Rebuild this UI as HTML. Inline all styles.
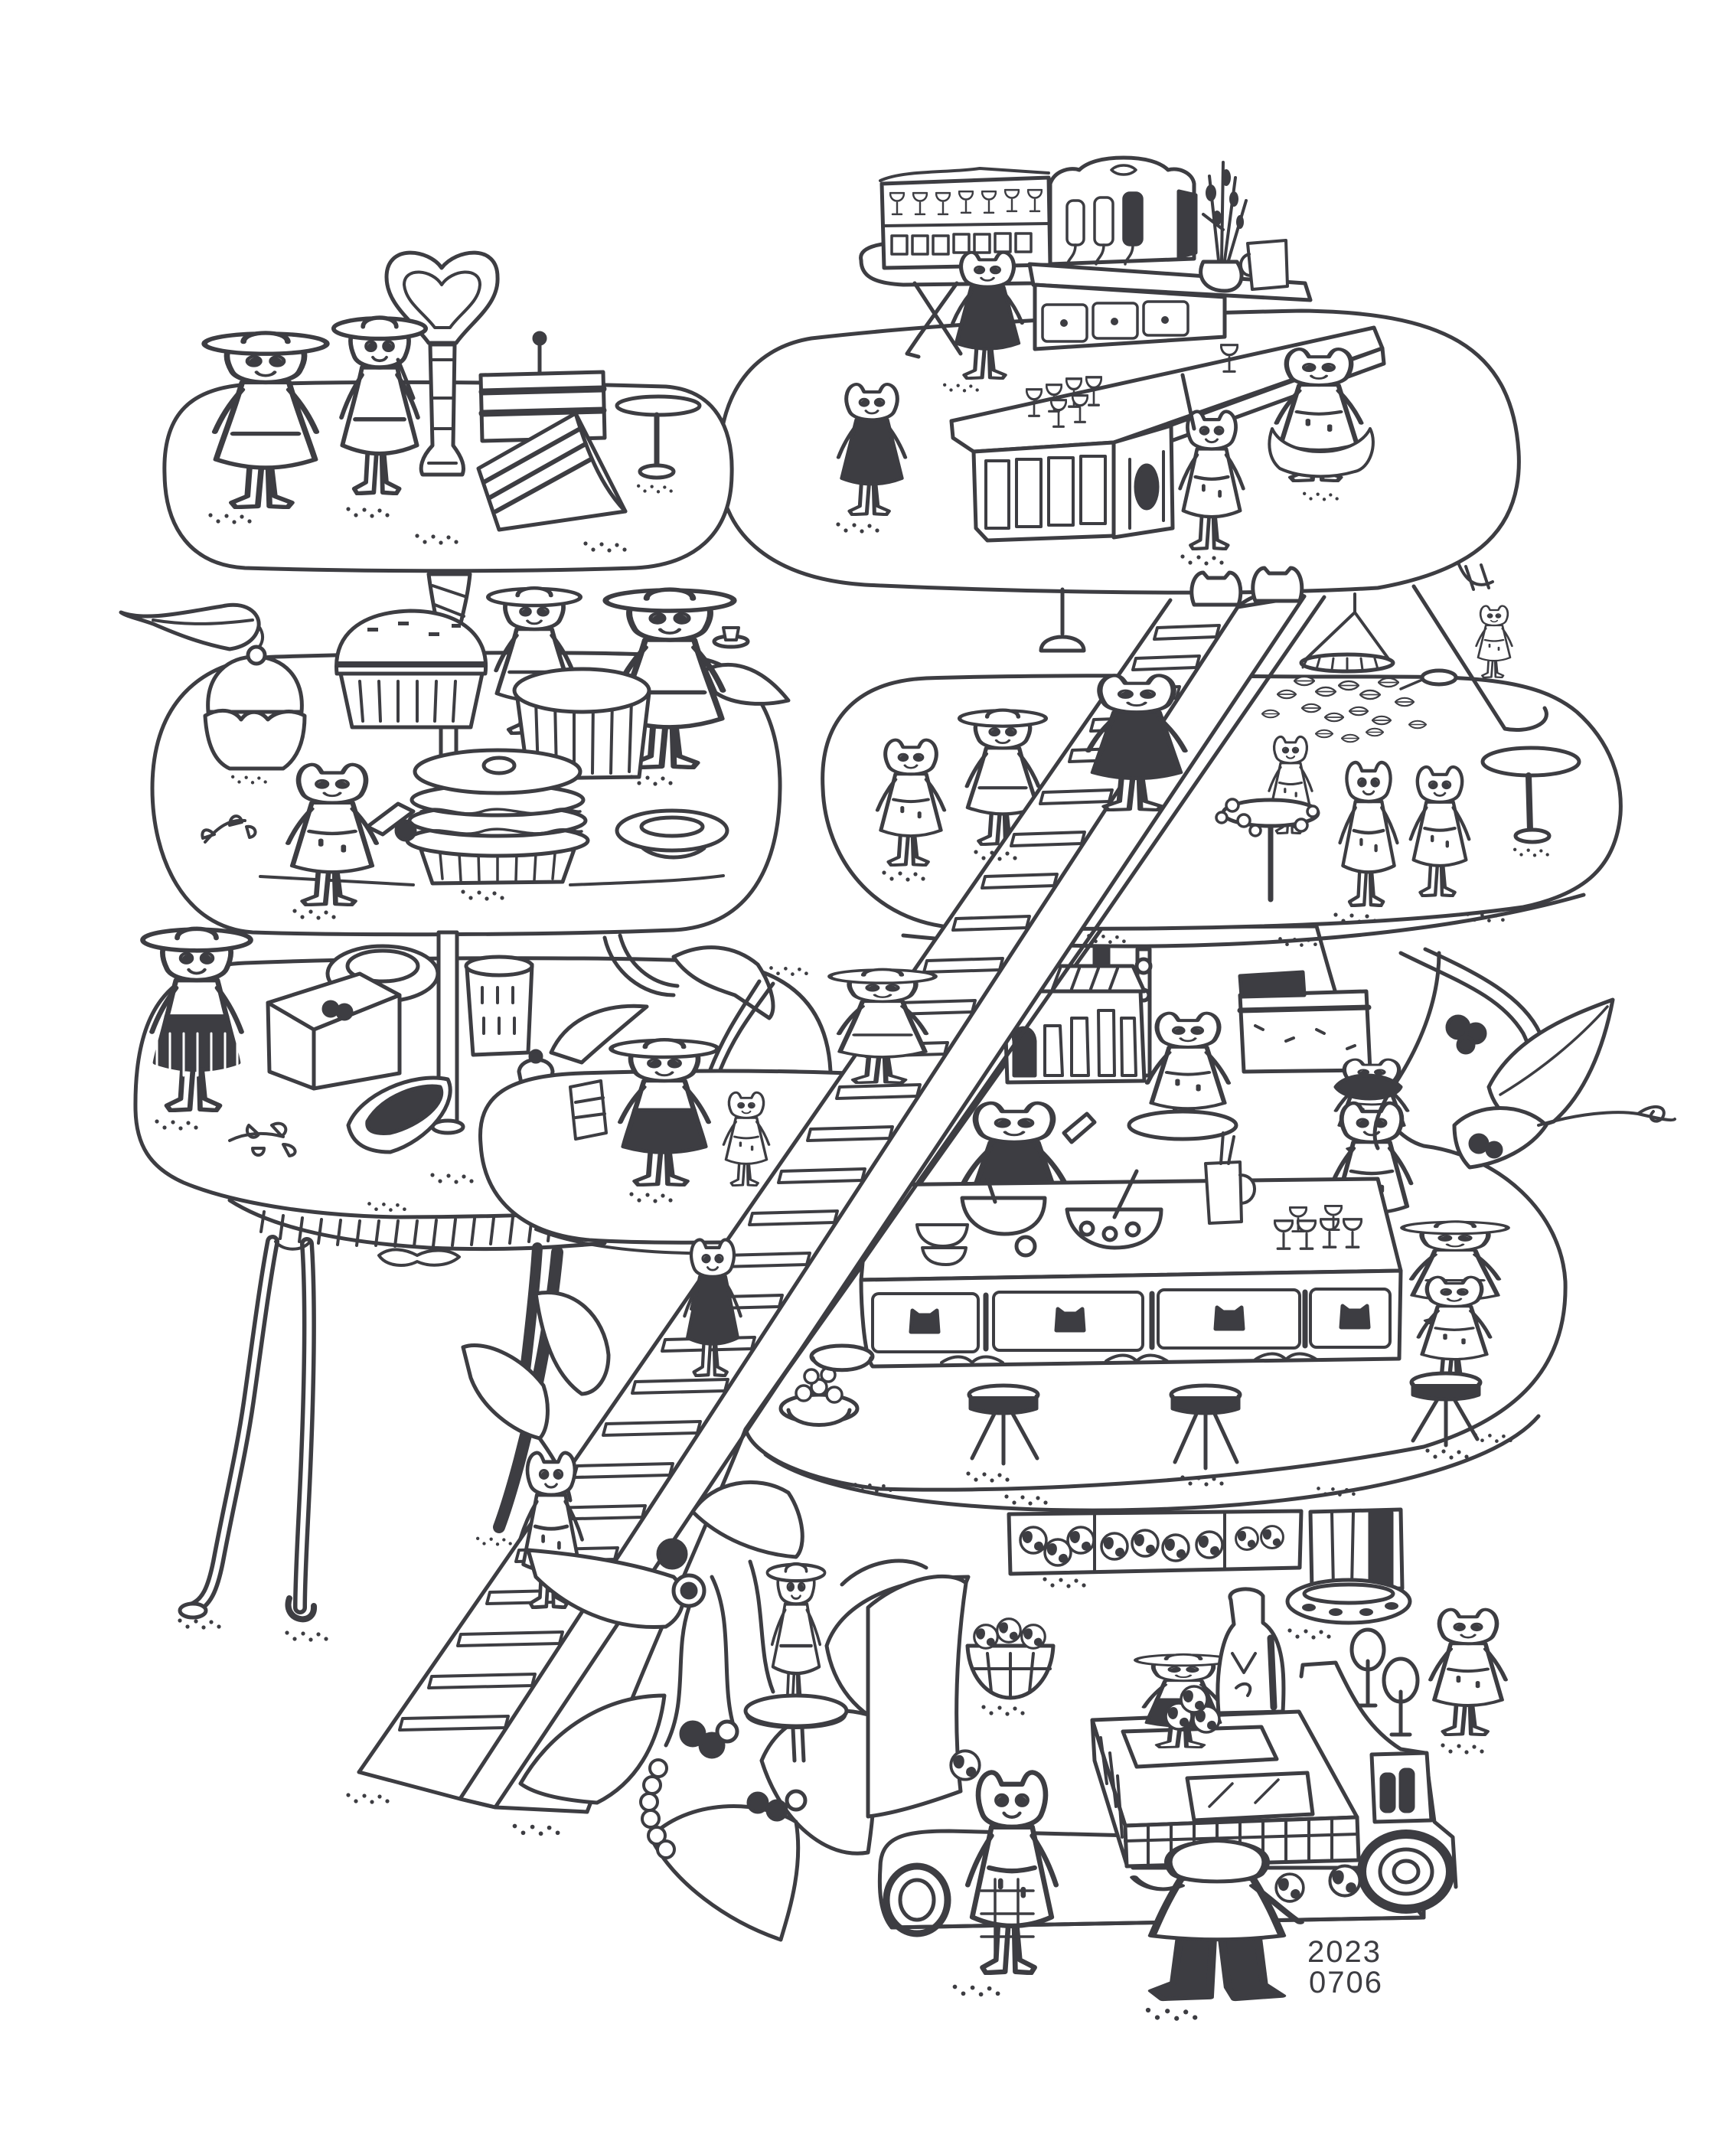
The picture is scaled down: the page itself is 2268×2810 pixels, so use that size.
<!DOCTYPE html>
<html><head><meta charset="utf-8"><title>tiers</title>
<style>html,body{margin:0;padding:0;background:#fff}svg{display:block}</style>
</head><body>
<svg xmlns="http://www.w3.org/2000/svg" width="2268" height="2810" viewBox="0 0 2268 2810">
<defs>
<symbol id="cat" viewBox="0 0 100 200" preserveAspectRatio="none">
<g stroke="#3d3d42" stroke-width="4.5" fill="#fff" stroke-linejoin="round" stroke-linecap="round">
<path d="M38,148 L36,186 L24,193 L27,198 L44,197 L47,150 Z M54,150 L57,186 L70,193 L67,198 L53,197 L52,150 Z"/>
<path d="M32,62 C26,92 20,120 15,146 C38,157 62,157 85,146 C80,120 74,92 68,62 Z"/>
<path d="M32,70 C22,86 16,100 11,116 M68,70 C78,86 84,100 89,116" fill="none"/>
<path d="M24,50 C16,30 22,12 32,11 C37,11 39,17 41,22 L59,22 C61,17 63,11 68,11 C78,12 84,30 76,50 C70,66 30,66 24,50 Z"/>
<circle cx="41" cy="37" r="5" stroke-width="3"/><circle cx="59" cy="37" r="5" stroke-width="3"/>
<path d="M43,49 C46,54 54,54 57,49" fill="none" stroke-width="3"/>
<path d="M30,100 C45,104 55,104 70,100 M40,112 L40,118 M60,120 L60,126" fill="none"/>
</g>
<circle cx="42" cy="38" r="2.2" fill="#3d3d42"/><circle cx="58" cy="38" r="2.2" fill="#3d3d42"/>
</symbol>
<symbol id="catd" viewBox="0 0 100 200" preserveAspectRatio="none">
<g stroke="#3d3d42" stroke-width="4.5" fill="#fff" stroke-linejoin="round" stroke-linecap="round">
<path d="M38,148 L36,186 L24,193 L27,198 L44,197 L47,150 Z M54,150 L57,186 L70,193 L67,198 L53,197 L52,150 Z"/>
<path d="M32,62 C26,92 20,120 15,146 C38,157 62,157 85,146 C80,120 74,92 68,62 Z" fill="#3d3d42"/>
<path d="M32,70 C22,86 16,100 11,116 M68,70 C78,86 84,100 89,116" fill="none"/>
<path d="M24,50 C16,30 22,12 32,11 C37,11 39,17 41,22 L59,22 C61,17 63,11 68,11 C78,12 84,30 76,50 C70,66 30,66 24,50 Z"/>
<circle cx="41" cy="37" r="5" stroke-width="3"/><circle cx="59" cy="37" r="5" stroke-width="3"/>
<path d="M43,49 C46,54 54,54 57,49" fill="none" stroke-width="3"/>
</g>
<circle cx="42" cy="38" r="2.2" fill="#3d3d42"/><circle cx="58" cy="38" r="2.2" fill="#3d3d42"/>
</symbol>
<symbol id="cath" viewBox="0 0 100 200" preserveAspectRatio="none">
<g stroke="#3d3d42" stroke-width="4.5" fill="#fff" stroke-linejoin="round" stroke-linecap="round">
<path d="M38,148 L36,186 L24,193 L27,198 L44,197 L47,150 Z M54,150 L57,186 L70,193 L67,198 L53,197 L52,150 Z"/>
<path d="M32,62 C26,92 18,120 12,146 C38,158 62,158 88,146 C82,120 74,92 68,62 Z"/>
<path d="M32,70 C22,86 16,100 11,116 M68,70 C78,86 84,100 89,116 M25,118 L75,118" fill="none"/>
<path d="M24,50 C16,30 22,18 32,17 L68,17 C78,18 84,30 76,50 C70,66 30,66 24,50 Z"/>
<ellipse cx="50" cy="20" rx="47" ry="11"/>
<path d="M33,18 C33,5 67,5 67,18"/>
<circle cx="41" cy="39" r="5" stroke-width="3"/><circle cx="59" cy="39" r="5" stroke-width="3"/>
<path d="M43,51 C46,56 54,56 57,51" fill="none" stroke-width="3"/>
</g>
<circle cx="42" cy="40" r="2.2" fill="#3d3d42"/><circle cx="58" cy="40" r="2.2" fill="#3d3d42"/>
</symbol>
<symbol id="cathd" viewBox="0 0 100 200" preserveAspectRatio="none">
<g stroke="#3d3d42" stroke-width="4.5" fill="#fff" stroke-linejoin="round" stroke-linecap="round">
<path d="M38,148 L36,186 L24,193 L27,198 L44,197 L47,150 Z M54,150 L57,186 L70,193 L67,198 L53,197 L52,150 Z"/>
<path d="M32,62 C28,80 26,92 24,100 L76,100 C74,92 72,80 68,62 Z"/>
<path d="M24,100 C20,120 16,135 14,148 C38,158 62,158 86,148 C84,135 80,120 76,100 Z" fill="#3d3d42"/>
<path d="M32,70 C22,86 16,100 11,116 M68,70 C78,86 84,100 89,116" fill="none"/>
<path d="M24,50 C16,30 22,18 32,17 L68,17 C78,18 84,30 76,50 C70,66 30,66 24,50 Z"/>
<ellipse cx="50" cy="20" rx="47" ry="11"/>
<path d="M33,18 C33,5 67,5 67,18"/>
<circle cx="41" cy="39" r="5" stroke-width="3"/><circle cx="59" cy="39" r="5" stroke-width="3"/>
<path d="M43,51 C46,56 54,56 57,51" fill="none" stroke-width="3"/>
</g>
<circle cx="42" cy="40" r="2.2" fill="#3d3d42"/><circle cx="58" cy="40" r="2.2" fill="#3d3d42"/>
</symbol>
<symbol id="catp" viewBox="0 0 100 200" preserveAspectRatio="none">
<g stroke="#3d3d42" stroke-width="4.5" fill="#fff" stroke-linejoin="round" stroke-linecap="round">
<path d="M30,110 L26,176 L14,186 L20,196 L46,194 L48,112 Z M52,112 L56,182 L60,196 L86,192 L76,178 L72,110 Z" fill="#3d3d42"/>
<path d="M30,52 C22,80 18,100 14,120 C38,126 62,126 86,120 C82,100 78,80 70,52 Z"/>
<path d="M30,60 C18,70 8,60 4,50 M70,60 C82,80 90,96 96,104" fill="none"/>
<path d="M26,46 C18,26 26,8 50,6 C74,8 82,26 74,46 C68,58 32,58 26,46 Z"/>
</g>
</symbol>
<symbol id="gob" viewBox="0 0 20 30" preserveAspectRatio="none">
<path d="M1,2 C1,15 19,15 19,2 Z M10,14 L10,26 M4,28 L16,28" fill="#fff" stroke="#3d3d42" stroke-width="2.4" stroke-linecap="round"/>
</symbol>
<symbol id="dots" viewBox="0 0 60 20">
<g fill="#3d3d42"><circle cx="5" cy="5" r="2.6"/><circle cx="15" cy="13" r="2.6"/><circle cx="26" cy="6" r="2.6"/><circle cx="36" cy="14" r="2.6"/><circle cx="46" cy="7" r="2.6"/><circle cx="56" cy="13" r="2.6"/></g>
</symbol>
<symbol id="ball" viewBox="0 0 40 40">
<circle cx="20" cy="20" r="17" fill="#fff" stroke="#3d3d42" stroke-width="3.5"/>
<path d="M8,14 C12,8 18,10 16,18 C14,24 8,22 8,14 Z M24,26 C28,22 32,26 30,30 C26,33 22,30 24,26 Z" fill="#3d3d42"/>
</symbol>
<symbol id="lf" viewBox="0 0 30 16">
<path d="M1,8 C8,0 22,0 29,8 C22,16 8,16 1,8 Z" fill="#fff" stroke="#3d3d42" stroke-width="2.5"/>
<path d="M4,8 L26,8" stroke="#3d3d42" stroke-width="2"/>
</symbol>
</defs>

<g fill="#fff" stroke="#3d3d42" stroke-width="5" stroke-linejoin="round" stroke-linecap="round">

<!-- ===== table legs (back) ===== -->
<g fill="none">
<path d="M356,1622 C345,1680 335,1760 325,1830 C315,1900 300,1960 285,2040 C278,2075 270,2095 250,2102" stroke-width="18"/>
<path d="M356,1622 C345,1680 335,1760 325,1830 C315,1900 300,1960 285,2040 C278,2075 270,2095 250,2102" stroke="#fff" stroke-width="7"/>
<path d="M401,1625 C406,1700 404,1800 400,1900 C397,1980 392,2050 392,2100" stroke-width="18"/>
<path d="M401,1625 C406,1700 404,1800 400,1900 C397,1980 392,2050 392,2100" stroke="#fff" stroke-width="7"/>
<path d="M728,1636 C722,1700 712,1760 695,1840 C682,1900 665,1960 652,1995" stroke-width="16"/>
<path d="M702,1630 C699,1680 692,1740 686,1790" stroke-width="14"/>
</g>
<ellipse cx="252" cy="2104" rx="17" ry="9"/>
<path d="M378,2088 C368,2118 412,2126 410,2098" fill="none" stroke-width="8"/>

<!-- ===== TR platform ===== -->
<path d="M940,618 C935,520 980,455 1060,442 C1250,420 1500,410 1700,406 C1880,408 1975,450 1984,590 C1990,690 1930,745 1800,768 C1600,780 1300,772 1130,764 C1010,756 945,700 940,618 Z"/>
<path d="M1905,735 C1915,760 1930,770 1950,760 M1915,740 L1925,770 M1935,738 L1945,768" fill="none" stroke-width="4"/>
<use href="#cat" x="1922" y="786" width="60" height="100"/>
<!-- top bar -->
<path d="M1125,340 C1120,320 1160,315 1200,318 L1350,325 L1350,370 L1180,372 C1140,370 1125,360 1125,340 Z"/>
<path d="M1195,370 L1255,462 M1250,370 L1200,440 L1185,462 L1200,466" fill="none"/>
<path d="M1152,240 L1370,232 L1372,346 L1155,350 Z"/>
<path d="M1150,236 C1180,222 1240,226 1280,220 L1370,226 M1155,295 L1372,292" fill="none" stroke-width="4"/>
<use href="#gob" x="1162" y="250" width="20" height="32"/><use href="#gob" x="1192" y="250" width="20" height="32"/><use href="#gob" x="1222" y="250" width="20" height="32"/><use href="#gob" x="1252" y="248" width="20" height="32"/><use href="#gob" x="1282" y="248" width="20" height="32"/><use href="#gob" x="1312" y="246" width="20" height="32"/><use href="#gob" x="1342" y="246" width="20" height="32"/>
<g stroke-width="3.5"><rect x="1165" y="308" width="20" height="24"/><rect x="1192" y="308" width="20" height="24"/><rect x="1219" y="308" width="20" height="24"/><rect x="1246" y="306" width="20" height="24"/><rect x="1273" y="306" width="20" height="24"/><rect x="1300" y="305" width="20" height="24"/><rect x="1327" y="305" width="20" height="24"/></g>
<path d="M1372,345 L1372,240 C1378,222 1400,218 1410,222 C1420,212 1440,206 1468,206 C1496,206 1516,212 1526,222 C1540,218 1558,226 1560,240 L1560,338 Z"/>
<path d="M1540,250 L1562,255 L1562,330 L1540,336 Z" fill="#3d3d42"/>
<path d="M1452,222 C1460,214 1476,214 1484,222 C1476,230 1460,230 1452,222 Z" stroke-width="3.5"/>
<g stroke-width="3.5"><rect x="1394" y="262" width="22" height="58" rx="8"/><rect x="1430" y="258" width="24" height="62" rx="8"/><rect x="1468" y="252" width="24" height="68" rx="8" fill="#3d3d42"/>
<path d="M1405,320 C1405,335 1395,338 1395,345 M1442,320 C1442,335 1432,338 1432,345 M1480,320 C1480,335 1470,338 1470,345" fill="none"/></g>
<path d="M1345,345 L1705,370 L1712,392 L1350,372 Z"/>
<path d="M1352,372 L1600,388 L1600,440 L1352,456 Z"/>
<g stroke-width="3.5" fill="none"><rect x="1362" y="398" width="58" height="48" rx="6"/><rect x="1428" y="396" width="58" height="46" rx="6"/><rect x="1494" y="394" width="58" height="44" rx="6"/></g>
<g fill="#3d3d42" stroke="none"><circle cx="1390" cy="422" r="5"/><circle cx="1456" cy="420" r="5"/><circle cx="1522" cy="418" r="5"/></g>
<path d="M1592,340 L1580,230 M1596,340 L1598,212 M1600,340 L1614,232 M1605,340 L1628,262 M1598,300 L1572,280" fill="none" stroke-width="4"/>
<g fill="#3d3d42" stroke="none"><ellipse cx="1582" cy="252" rx="7" ry="11"/><ellipse cx="1602" cy="232" rx="6" ry="11"/><ellipse cx="1612" cy="260" rx="6" ry="10"/><ellipse cx="1590" cy="285" rx="6" ry="10"/><ellipse cx="1620" cy="290" rx="5" ry="9"/></g>
<path d="M1572,342 C1562,362 1575,380 1600,380 C1622,380 1628,360 1616,342 Z"/>
<path d="M1630,318 L1680,314 L1682,374 L1636,378 Z M1632,332 C1616,336 1618,360 1634,360" stroke-width="4"/>
<use href="#catd" x="1232" y="320" width="116" height="176"/>
<!-- TR counter -->
<path d="M1243,550 L1795,428 L1806,455 L1455,578 L1272,590 L1245,572 Z"/>
<path d="M1528,556 L1806,455 L1808,475 L1530,576 Z"/>
<path d="M1272,590 L1455,578 L1455,700 L1290,706 L1275,690 Z"/>
<g fill="none" stroke-width="4"><rect x="1288" y="602" width="30" height="88"/><rect x="1328" y="600" width="32" height="88"/><rect x="1370" y="598" width="32" height="88"/><rect x="1412" y="596" width="32" height="88"/></g>
<path d="M1455,578 L1530,556 L1532,690 L1455,702 Z"/>
<path d="M1476,600 L1476,690 M1520,590 L1520,680" fill="none" stroke-width="4"/>
<ellipse cx="1498" cy="636" rx="14" ry="28" fill="#3d3d42"/>
<use href="#gob" x="1340" y="506" width="22" height="40"/><use href="#gob" x="1366" y="500" width="22" height="40"/><use href="#gob" x="1392" y="492" width="22" height="42"/><use href="#gob" x="1418" y="490" width="22" height="42"/><use href="#gob" x="1372" y="520" width="22" height="40"/><use href="#gob" x="1400" y="514" width="22" height="40"/>
<use href="#catd" x="1083" y="492" width="112" height="182"/>
<use href="#cat" x="1530" y="527" width="106" height="192"/>
<path d="M1560,560 L1545,490" fill="none"/>
<use href="#cat" x="1652" y="446" width="142" height="184"/>
<path d="M1662,560 C1680,600 1770,600 1790,560 C1800,580 1790,612 1770,616 C1740,625 1700,625 1672,612 C1658,600 1655,580 1662,560 Z" stroke-width="4"/>
<use href="#gob" x="1594" y="448" width="24" height="40"/>
<path d="M1388,770 L1388,828" fill="none"/>
<path d="M1360,850 C1360,826 1416,826 1416,850 Z"/>

<!-- ===== TL platform ===== -->
<path d="M215,620 C212,540 250,505 330,502 C500,497 700,500 870,505 C935,510 958,560 956,620 C955,700 905,738 830,742 C650,748 450,746 320,742 C250,738 216,690 215,620 Z"/>
<path d="M577,350 C560,325 505,318 505,362 C505,398 540,420 560,448 L596,448 C616,420 652,398 650,362 C650,318 596,325 577,350 Z"/>
<path d="M577,372 C565,352 528,348 528,372 C530,395 555,410 568,428 L588,428 C600,410 626,395 627,372 C627,348 590,352 577,372 Z" fill="none" stroke-width="4"/>
<path d="M562,450 L565,582 C550,598 548,612 552,620 L604,620 C608,610 604,598 592,582 L594,450 Z"/>
<path d="M562,470 L594,470 M564,520 L592,520 M566,560 L590,560 M560,605 L596,605" fill="none" stroke-width="4"/>
<use href="#cath" x="262" y="425" width="170" height="240"/>
<use href="#cath" x="432" y="405" width="128" height="242"/>
<path d="M520,470 L540,520" fill="none"/>
<path d="M628,490 L788,486 L790,572 L630,576 Z"/>
<path d="M630,512 L788,508" fill="none" stroke-width="9"/>
<path d="M630,540 L788,536" fill="none" stroke-width="9"/>
<path d="M705,488 L705,445" fill="none"/><circle cx="705" cy="442" r="7" fill="#3d3d42"/>
<path d="M625,612 L752,540 L817,668 L652,692 Z"/>
<path d="M632,630 L758,560 M640,650 L765,580 M648,668 L772,600" fill="none" stroke-width="6"/>
<path d="M752,540 C770,600 790,640 817,668" fill="none"/>
<ellipse cx="860" cy="530" rx="54" ry="12"/>
<path d="M858,542 L858,610" fill="none" stroke-width="7"/>
<ellipse cx="858" cy="616" rx="22" ry="8"/>

<!-- ===== L2 ===== -->
<path d="M199,1030 C199,925 255,862 360,858 C550,852 800,850 900,858 C990,866 1020,950 1019,1030 C1018,1130 980,1210 880,1215 C700,1222 450,1222 330,1218 C240,1212 199,1120 199,1030 Z"/>
<path d="M340,1145 C430,1150 500,1154 540,1156 M745,1156 C850,1152 900,1150 945,1144" fill="none" stroke-width="4"/>
<path d="M158,800 C190,812 240,800 290,792 C320,785 340,800 338,818 C335,835 320,845 300,848 C260,840 230,828 200,815 C180,808 165,805 158,800 Z"/>
<path d="M338,818 C348,832 342,846 330,852 M200,810 C250,818 290,815 330,810" fill="none" stroke-width="4"/>
<path d="M922,875 C950,862 990,865 1030,915 C1000,922 960,922 935,905 Z"/>
<path d="M560,750 C565,790 572,815 576,845 L576,988 L596,988 L596,845 C600,815 610,790 614,750 Z"/>
<path d="M565,765 L610,780 M568,790 L606,805 M572,815 L602,828" fill="none" stroke-width="4"/>
<path d="M272,930 C268,880 300,858 333,858 C370,858 398,885 394,930 Z"/>
<circle cx="335" cy="856" r="11"/>
<path d="M268,935 C270,970 280,995 300,1004 L370,1004 C390,990 398,965 398,935 C380,925 360,930 350,940 C340,928 325,926 315,940 C305,926 285,925 268,935 Z"/>
<path d="M440,880 C435,830 470,800 536,798 C600,798 640,830 634,880 Z"/>
<path d="M442,868 L632,868" fill="none" stroke-width="8"/>
<path d="M445,880 L630,880 L615,950 L460,950 Z"/>
<path d="M470,890 L474,942 M495,890 L497,942 M520,890 L520,942 M545,890 L545,942 M570,890 L568,942 M595,890 L592,942" fill="none" stroke-width="4"/>
<g fill="#3d3d42" stroke="none"><rect x="480" y="820" width="14" height="5"/><rect x="520" y="812" width="14" height="5"/><rect x="560" y="826" width="14" height="5"/><rect x="590" y="815" width="12" height="5"/></g>
<use href="#cath" x="634" y="760" width="128" height="200"/>
<use href="#cath" x="786" y="760" width="178" height="245"/>
<ellipse cx="955" cy="838" rx="22" ry="7"/><path d="M945,820 L965,820 L962,836 L948,836 Z" stroke-width="4"/>
<path d="M675,905 L848,905 L835,1015 L690,1017 Z"/>
<path d="M700,915 L703,1008 M725,915 L727,1010 M750,915 L750,1010 M775,915 L774,1010 M800,915 L798,1010 M825,915 L822,1008" fill="none" stroke-width="4"/>
<ellipse cx="760" cy="902" rx="88" ry="28"/>
<path d="M550,1110 L750,1110 L735,1152 L565,1154 Z"/>
<path d="M575,1115 L578,1148 M600,1115 L602,1150 M625,1115 L626,1150 M650,1115 L650,1150 M675,1115 L674,1150 M700,1115 L698,1150 M725,1115 L722,1148" fill="none" stroke-width="3.5"/>
<ellipse cx="650" cy="1098" rx="118" ry="20"/>
<ellipse cx="650" cy="1072" rx="115" ry="20"/>
<ellipse cx="650" cy="1045" rx="112" ry="20"/>
<ellipse cx="650" cy="1008" rx="108" ry="28"/>
<ellipse cx="652" cy="1000" rx="20" ry="10"/>
<path d="M550,1060 C580,1050 600,1070 630,1060 C660,1050 690,1070 720,1060 C740,1052 750,1062 758,1060 M548,1088 C580,1078 600,1096 630,1086 C660,1076 690,1096 720,1086 C740,1080 752,1088 760,1086" fill="none" stroke-width="3.5"/>
<circle cx="530" cy="1085" r="12" fill="#3d3d42"/>
<use href="#cat" x="360" y="988" width="148" height="196"/>
<path d="M480,1080 L520,1050 L540,1060 L500,1090 Z"/>
<ellipse cx="878" cy="1085" rx="72" ry="26"/>
<ellipse cx="878" cy="1080" rx="40" ry="12"/>
<path d="M840,1108 C860,1124 900,1124 920,1108" fill="none"/>
<path d="M268,1100 C285,1080 300,1070 320,1072 M280,1090 C270,1080 262,1084 265,1095 Z M300,1078 C300,1064 314,1062 316,1074 Z M322,1080 C335,1078 338,1092 326,1094 Z" stroke-width="4"/>

<!-- ===== R3 (under) ===== -->
<path d="M974,1867 L1440,1212 L1720,1210 C1770,1390 1800,1480 1860,1497 C1960,1510 2040,1585 2045,1674 C2048,1780 1990,1850 1860,1890 C1600,1940 1300,1950 1150,1945 C1060,1935 985,1905 974,1867 Z"/>
<path d="M1000,1900 C1080,1960 1300,1978 1500,1972 C1750,1965 1950,1920 2010,1850" fill="none"/>
<rect x="1430" y="1236" width="18" height="72" fill="#3d3d42"/>
<path d="M1486,1240 L1502,1240 L1502,1405 L1486,1405 Z"/>
<circle cx="1494" cy="1262" r="9"/><circle cx="1494" cy="1300" r="7"/>
<path d="M1318,1262 L1480,1262 L1495,1295 L1312,1295 Z"/>
<path d="M1335,1265 L1325,1292 M1360,1265 L1350,1292 M1385,1265 L1375,1292 M1410,1265 L1400,1292 M1435,1265 L1425,1292 M1460,1265 L1450,1292" fill="none" stroke-width="4"/>
<path d="M1312,1295 L1490,1295 L1495,1412 L1316,1414 Z"/>
<path d="M1325,1360 C1320,1340 1350,1335 1352,1360 L1352,1405 L1325,1405 Z" fill="#3d3d42"/>
<path d="M1365,1340 L1385,1340 L1388,1405 L1365,1405 Z M1400,1330 L1420,1330 L1422,1405 L1400,1405 Z M1435,1320 L1455,1320 L1456,1405 L1436,1405 Z M1465,1330 L1482,1330 L1484,1405 L1466,1405 Z" stroke-width="4"/>
<path d="M1620,1300 L1785,1295 L1790,1398 L1625,1400 Z"/>
<path d="M1620,1320 L1788,1316" fill="none" stroke-width="7"/>
<path d="M1620,1275 L1702,1270 L1704,1300 L1622,1302 Z" fill="#3d3d42"/>
<path d="M1640,1340 L1650,1345 M1680,1360 L1690,1356 M1720,1345 L1730,1350 M1760,1370 L1770,1366" fill="none" stroke-width="4"/>
<use href="#cat" x="1484" y="1314" width="136" height="174"/>
<ellipse cx="1545" cy="1470" rx="70" ry="18"/>
<use href="#cat" x="1732" y="1377" width="120" height="128"/>
<path d="M1745,1420 C1760,1400 1810,1400 1830,1420 C1820,1440 1760,1440 1745,1420 Z" fill="#3d3d42"/>
<use href="#catd" x="1240" y="1430" width="170" height="200"/>
<path d="M1390,1480 L1420,1455 L1430,1466 L1400,1492 Z"/>
<use href="#cat" x="1726" y="1430" width="132" height="200"/>
<path d="M1136,1548 L1800,1540 L1830,1660 L1125,1672 Z"/>
<path d="M1257,1565 C1260,1600 1290,1612 1312,1612 C1340,1612 1365,1600 1365,1565 Z"/>
<path d="M1300,1570 L1290,1540" fill="none"/>
<path d="M1394,1580 C1398,1615 1430,1630 1456,1630 C1490,1630 1517,1615 1517,1580 Z"/>
<path d="M1456,1590 L1485,1530" fill="none"/>
<circle cx="1420" cy="1605" r="8"/><circle cx="1450" cy="1612" r="8"/><circle cx="1480" cy="1606" r="8"/>
<path d="M1198,1600 C1200,1620 1215,1628 1232,1628 C1250,1628 1262,1620 1264,1600 Z M1205,1630 C1208,1648 1222,1652 1236,1652 C1250,1652 1260,1645 1262,1630 Z" stroke-width="4"/>
<circle cx="1340" cy="1628" r="12"/>
<path d="M1575,1520 L1620,1518 L1622,1596 L1580,1598 Z M1620,1535 C1645,1535 1645,1570 1622,1572" stroke-width="4"/>
<path d="M1595,1520 L1598,1480 M1605,1520 L1612,1485" fill="none" stroke-width="4"/>
<use href="#gob" x="1664" y="1592" width="26" height="42"/><use href="#gob" x="1694" y="1592" width="26" height="42"/><use href="#gob" x="1724" y="1590" width="26" height="42"/><use href="#gob" x="1754" y="1590" width="26" height="42"/><use href="#gob" x="1684" y="1575" width="24" height="36"/><use href="#gob" x="1730" y="1573" width="24" height="36"/>
<path d="M1125,1672 L1830,1660 L1828,1775 L1140,1785 C1128,1770 1125,1700 1125,1672 Z"/>
<g fill="none" stroke-width="4"><rect x="1140" y="1690" width="138" height="76" rx="8"/><rect x="1298" y="1688" width="195" height="76" rx="8"/><rect x="1513" y="1685" width="185" height="76" rx="8"/><rect x="1712" y="1684" width="104" height="76" rx="8"/></g>
<path d="M1288,1692 L1288,1762 M1505,1690 L1505,1760 M1705,1688 L1705,1758" fill="none" stroke-width="7"/>
<g fill="#3d3d42"><path d="M1190,1740 L1192,1712 L1200,1718 L1216,1718 L1224,1712 L1226,1740 Z"/><path d="M1380,1738 L1382,1710 L1390,1716 L1406,1716 L1414,1710 L1416,1738 Z"/><path d="M1588,1736 L1590,1708 L1598,1714 L1614,1714 L1622,1708 L1624,1736 Z"/><path d="M1752,1734 L1754,1706 L1762,1712 L1778,1712 L1786,1706 L1788,1734 Z"/></g>
<path d="M1230,1780 C1245,1770 1260,1770 1270,1780 C1280,1770 1295,1770 1310,1780 M1445,1778 C1460,1768 1475,1768 1485,1778 C1495,1768 1510,1768 1525,1778 M1640,1776 C1655,1766 1670,1766 1680,1776 C1690,1766 1705,1766 1720,1776" fill="none" stroke-width="4"/>
<ellipse cx="1311" cy="1822" rx="45" ry="12"/>
<path d="M1268,1824 L1268,1840 C1290,1848 1330,1848 1354,1840 L1354,1824" fill="#3d3d42"/>
<path d="M1300,1845 L1270,1905 M1311,1845 L1311,1912 M1322,1845 L1355,1905" fill="none"/>
<ellipse cx="1575" cy="1822" rx="45" ry="12"/>
<path d="M1532,1824 L1532,1840 C1555,1848 1595,1848 1618,1840 L1618,1824" fill="#3d3d42"/>
<path d="M1564,1845 L1535,1910 M1575,1845 L1575,1918 M1586,1845 L1616,1910" fill="none"/>
<use href="#cath" x="1828" y="1590" width="146" height="140"/>
<use href="#cat" x="1840" y="1660" width="120" height="150"/>
<ellipse cx="1889" cy="1806" rx="45" ry="12"/>
<path d="M1846,1808 L1846,1822 C1870,1830 1910,1830 1932,1822 L1932,1808" fill="#3d3d42"/>
<path d="M1878,1828 L1846,1882 M1889,1828 L1889,1888 M1900,1828 L1930,1880" fill="none"/>
<ellipse cx="1070" cy="1840" rx="50" ry="18"/>
<path d="M1030,1842 C1035,1868 1105,1868 1110,1842" />
<g stroke-width="3.5"><circle cx="1050" cy="1820" r="10"/><circle cx="1070" cy="1812" r="10"/><circle cx="1090" cy="1822" r="10"/><circle cx="1060" cy="1798" r="9"/><circle cx="1082" cy="1796" r="9"/></g>
<ellipse cx="1100" cy="1772" rx="40" ry="14"/>
<path d="M1062,1774 C1068,1795 1132,1795 1138,1774"/>
<!-- under R3 -->
<path d="M1318,1978 L1700,1974 L1698,2048 L1320,2056 Z"/>
<path d="M1430,1978 L1430,2052 M1600,1976 L1600,2050" fill="none" stroke-width="4"/>
<use href="#ball" x="1330" y="1990" width="40" height="44"/><use href="#ball" x="1362" y="2006" width="40" height="44"/><use href="#ball" x="1392" y="1990" width="40" height="44"/><use href="#ball" x="1436" y="1998" width="40" height="44"/><use href="#ball" x="1476" y="1994" width="40" height="44"/><use href="#ball" x="1516" y="2000" width="40" height="44"/><use href="#ball" x="1560" y="1996" width="40" height="44"/><use href="#ball" x="1612" y="1990" width="34" height="40"/><use href="#ball" x="1645" y="1988" width="34" height="40"/>
<path d="M1712,1975 L1830,1972 L1832,2075 L1714,2078 Z"/>
<rect x="1790" y="1976" width="28" height="96" fill="#3d3d42"/>
<path d="M1740,1976 L1742,2074 M1768,1976 L1766,2074" fill="none" stroke-width="4"/>
<ellipse cx="1762" cy="2092" rx="80" ry="28"/>
<ellipse cx="1762" cy="2082" rx="58" ry="12"/>
<g fill="#3d3d42" stroke="none"><ellipse cx="1710" cy="2100" rx="9" ry="5"/><ellipse cx="1745" cy="2106" rx="9" ry="5"/><ellipse cx="1785" cy="2106" rx="9" ry="5"/><ellipse cx="1818" cy="2098" rx="9" ry="5"/></g>

<!-- ===== R2 ===== -->
<path d="M1075,1030 C1070,940 1120,890 1210,886 C1400,880 1600,884 1750,884 C1900,884 2000,880 2060,930 C2105,970 2120,1020 2117,1064 C2110,1140 2060,1170 1990,1185 C1800,1212 1500,1216 1250,1212 C1140,1205 1078,1120 1075,1030 Z"/>
<path d="M1180,1222 C1400,1246 1800,1246 2069,1169" fill="none"/>
<path d="M1730,780 L1432,1212" fill="none"/>
<path d="M1847,766 L1966,952 C1995,958 2030,946 2018,925" fill="none"/>
<path d="M1770,776 L1770,800 M1770,800 L1705,862 M1770,800 L1815,862" fill="none" stroke-width="4"/>
<ellipse cx="1760" cy="866" rx="60" ry="11"/>
<path d="M1702,872 L1708,860 M1720,874 L1724,860 M1740,875 L1742,860 M1760,876 L1760,860 M1780,875 L1778,860 M1800,874 L1796,860" fill="none" stroke-width="3"/>
<g>
<use href="#lf" x="1690" y="882" width="28" height="15"/><use href="#lf" x="1718" y="896" width="28" height="15"/><use href="#lf" x="1748" y="888" width="28" height="15"/><use href="#lf" x="1776" y="900" width="28" height="15"/><use href="#lf" x="1800" y="884" width="28" height="15"/>
<use href="#lf" x="1700" y="918" width="26" height="14"/><use href="#lf" x="1730" y="930" width="26" height="14"/><use href="#lf" x="1762" y="922" width="26" height="14"/><use href="#lf" x="1792" y="934" width="26" height="14"/><use href="#lf" x="1668" y="900" width="26" height="14"/><use href="#lf" x="1822" y="910" width="26" height="14"/>
<use href="#lf" x="1718" y="952" width="24" height="13"/><use href="#lf" x="1752" y="958" width="24" height="13"/><use href="#lf" x="1784" y="950" width="24" height="13"/><use href="#lf" x="1648" y="926" width="24" height="13"/><use href="#lf" x="1840" y="940" width="24" height="13"/>
</g>
<ellipse cx="1880" cy="885" rx="22" ry="9"/><path d="M1858,888 L1830,900" fill="none" stroke-width="3.5"/>
<ellipse cx="2000" cy="995" rx="63" ry="18"/>
<path d="M1997,1013 L1999,1085" fill="none" stroke-width="8"/>
<ellipse cx="2002" cy="1092" rx="22" ry="8"/>
<use href="#cat" x="1134" y="957" width="112" height="175"/>
<use href="#cath" x="1250" y="920" width="120" height="185"/>
<use href="#cat" x="1650" y="955" width="72" height="135"/>
<ellipse cx="1660" cy="1062" rx="62" ry="17"/>
<path d="M1660,1080 L1660,1175" fill="none" stroke-width="7"/>
<g stroke-width="3.5"><circle cx="1610" cy="1052" r="8"/><circle cx="1625" cy="1072" r="8"/><circle cx="1596" cy="1068" r="7"/><circle cx="1640" cy="1085" r="7"/><circle cx="1700" cy="1078" r="8"/><circle cx="1715" cy="1060" r="7"/></g>
<use href="#cat" x="1740" y="985" width="96" height="200"/>
<use href="#cat" x="1832" y="992" width="98" height="180"/>

<!-- right vines & leaves -->
<path d="M1830,1245 C1900,1280 1960,1300 1990,1350 C2010,1390 2000,1430 1960,1460" fill="none"/>
<path d="M1862,1240 C1932,1272 1990,1302 2012,1350" fill="none"/>
<path d="M1880,1245 C1880,1300 1860,1360 1820,1420 C1800,1450 1790,1480 1800,1500" fill="none"/>
<circle cx="1905" cy="1342" r="14" fill="#3d3d42"/><circle cx="1928" cy="1350" r="12" fill="#3d3d42"/><circle cx="1915" cy="1365" r="10" fill="#3d3d42"/>
<path d="M1945,1420 C1975,1360 2040,1330 2107,1306 C2095,1370 2070,1430 2030,1465 C1990,1480 1955,1460 1945,1420 Z"/>
<path d="M1960,1430 C2010,1400 2060,1360 2100,1315" fill="none" stroke-width="3.5"/>
<path d="M1900,1470 C1930,1440 1990,1440 2020,1470 C2000,1500 1960,1520 1920,1525 C1905,1510 1900,1490 1900,1470 Z"/>
<circle cx="1932" cy="1494" r="11" fill="#3d3d42"/><circle cx="1952" cy="1502" r="9" fill="#3d3d42"/>
<path d="M2010,1470 C2060,1455 2110,1450 2140,1455 C2160,1440 2180,1445 2172,1460 C2165,1470 2150,1462 2160,1452 M2140,1455 C2170,1462 2185,1465 2188,1462" fill="none" stroke-width="4"/>

<!-- ===== L3 ===== -->
<path d="M177,1450 C175,1320 220,1262 320,1258 C520,1250 800,1250 930,1256 C1000,1262 1080,1290 1085,1400 L1085,1560 C900,1580 700,1590 520,1590 C400,1588 300,1570 240,1545 C195,1525 178,1495 177,1450 Z"/>
<path d="M300,1568 C350,1600 430,1622 560,1630 C650,1634 720,1630 790,1624" fill="none"/>
<path d="M345,1583 l-4,26 M370,1588 l-4,30 M395,1591 l-4,31 M420,1593 l-4,31 M445,1594 l-4,32 M470,1595 l-4,32 M495,1595 l-4,32 M520,1595 l-4,33 M545,1595 l-4,33 M570,1594 l-4,34 M595,1593 l-4,34 M620,1592 l-4,34 M645,1591 l-4,34 M670,1590 l-4,34 M695,1589 l-4,33 M720,1588 l-4,33 M745,1587 l-4,32" fill="none" stroke-width="4"/>
<path d="M495,1640 C510,1628 530,1632 545,1640 C560,1632 585,1630 600,1642 C585,1655 560,1655 545,1648 C530,1656 505,1655 495,1640 Z" stroke-width="4"/>
<path d="M360,1622 C370,1635 395,1635 405,1622" fill="none" stroke-width="4"/>
<rect x="573" y="1218" width="24" height="252"/>
<ellipse cx="585" cy="1472" rx="20" ry="8"/>
<use href="#cathd" x="182" y="1203" width="150" height="250"/>
<path d="M205,1405 L205,1350 M222,1405 L222,1350 M240,1405 L240,1350 M258,1405 L258,1350 M276,1405 L276,1350 M294,1405 L294,1350 M310,1405 L310,1350" fill="none" stroke="#fff" stroke-width="3"/>
<ellipse cx="500" cy="1272" rx="72" ry="36"/>
<ellipse cx="500" cy="1262" rx="46" ry="20"/>
<path d="M350,1310 L470,1272 L522,1300 L522,1402 L410,1422 L352,1400 Z"/>
<path d="M350,1310 L410,1345 L522,1300 M410,1345 L410,1422" fill="none"/>
<circle cx="432" cy="1318" r="9" fill="#3d3d42"/><circle cx="450" cy="1322" r="9" fill="#3d3d42"/>
<path d="M610,1265 L695,1260 L690,1375 L618,1378 Z"/>
<ellipse cx="652" cy="1262" rx="43" ry="12"/>
<path d="M630,1290 L630,1310 M650,1290 L650,1310 M670,1290 L670,1310 M632,1330 L632,1350 M652,1330 L652,1350 M672,1330 L672,1350" fill="none" stroke-width="4"/>
<path d="M455,1470 C470,1430 540,1400 585,1410 C600,1440 560,1490 510,1505 C480,1505 460,1495 455,1470 Z"/>
<path d="M480,1465 C500,1430 550,1415 575,1420 C585,1440 550,1470 510,1480 C490,1482 478,1478 480,1465 Z" fill="#3d3d42"/>
<path d="M678,1400 C680,1380 720,1378 722,1400 L716,1430 L684,1430 Z"/>
<circle cx="700" cy="1380" r="7" fill="#3d3d42"/>
<path d="M300,1490 C320,1480 345,1478 370,1485 M325,1470 C318,1480 330,1492 338,1482 Z M355,1470 C370,1462 380,1476 368,1484 Z M330,1500 C330,1512 345,1512 345,1500 Z M370,1495 C385,1495 392,1508 378,1510 Z" stroke-width="4"/>
<path d="M790,1225 C800,1270 840,1300 880,1300" fill="none"/>
<path d="M810,1222 C820,1260 850,1285 885,1288" fill="none"/>
<path d="M880,1250 C920,1230 960,1235 990,1260 C1010,1290 1015,1320 1005,1330 C990,1320 975,1310 960,1300 C930,1290 900,1280 880,1250 Z"/>
<path d="M720,1375 C740,1330 790,1310 845,1315 C815,1340 785,1365 760,1388 Z"/>
<path d="M940,1400 C960,1350 985,1320 1010,1285 M925,1405 C945,1352 968,1320 992,1282" fill="none"/>

<!-- ===== M ===== -->
<path d="M628,1495 C622,1430 665,1405 760,1402 C880,1398 1000,1398 1110,1402 L1110,1618 C980,1624 850,1625 770,1620 C680,1612 632,1565 628,1495 Z"/>
<path d="M700,1606 C780,1638 900,1640 1020,1636" fill="none" stroke-width="4"/>
<path d="M745,1420 L785,1412 L792,1480 L752,1488 Z M752,1440 L788,1434 M752,1460 L790,1455" stroke-width="4"/>
<use href="#cathd" x="794" y="1350" width="148" height="200"/>
<use href="#cat" x="937" y="1420" width="76" height="130"/>

<!-- ===== ladder ===== -->
<path d="M1529,784 L1617,793 L601,2350 L469,2315 Z" stroke="none"/>
<path d="M1617,793 L1704,779 L647,2361 L601,2350 Z"/>
<path d="M1529,784 L469,2315" fill="none"/>
<path d="M1617,793 C1640,772 1680,768 1704,779" fill="none"/>
<path d="M1512,820 L1593,817 L1589,832 L1508,835 Z M1484,860 L1567,857 L1563,872 L1480,875 Z M1457,900 L1541,897 L1537,912 L1453,915 Z M1429,940 L1515,937 L1511,952 L1425,955 Z M1401,980 L1489,977 L1485,992 L1397,995 Z M1363,1035 L1453,1032 L1449,1047 L1359,1050 Z M1325,1090 L1417,1087 L1413,1102 L1321,1105 Z M1287,1145 L1381,1142 L1377,1157 L1283,1160 Z M1249,1200 L1345,1197 L1341,1212 L1245,1215 Z M1211,1255 L1310,1252 L1306,1267 L1207,1270 Z M1173,1310 L1274,1307 L1270,1322 L1169,1325 Z M1135,1365 L1238,1362 L1234,1377 L1131,1380 Z M1097,1420 L1202,1417 L1198,1432 L1093,1435 Z M1059,1475 L1166,1472 L1162,1487 L1055,1490 Z M1021,1530 L1130,1527 L1126,1542 L1017,1545 Z M983,1585 L1094,1582 L1090,1597 L979,1600 Z M945,1640 L1058,1637 L1054,1652 L941,1655 Z M907,1695 L1022,1692 L1018,1707 L903,1710 Z M869,1750 L986,1747 L982,1762 L865,1765 Z M830,1805 L951,1802 L947,1817 L826,1820 Z M792,1860 L915,1857 L911,1872 L788,1875 Z M754,1915 L879,1912 L875,1927 L750,1930 Z M716,1970 L843,1967 L839,1982 L712,1985 Z M678,2025 L807,2022 L803,2037 L674,2040 Z M640,2080 L771,2077 L767,2092 L636,2095 Z M602,2135 L735,2132 L731,2147 L598,2150 Z M564,2190 L699,2187 L695,2202 L560,2205 Z M526,2245 L664,2242 L660,2257 L522,2260 Z" stroke-width="4"/>
<path d="M469,2315 L601,2350 L647,2361 L767,2367" fill="none"/>
<path d="M1432,1212 L974,1867 C930,1980 850,2150 767,2367" fill="none"/>
<path d="M1560,790 C1552,770 1560,748 1572,748 L1578,755 L1600,755 L1606,748 C1618,748 1625,770 1618,790 Z"/>
<path d="M1640,785 C1632,765 1640,742 1652,742 L1658,749 L1680,749 L1686,742 C1698,742 1705,765 1698,785 Z"/>
<use href="#catd" x="1404" y="872" width="162" height="188"/>
<use href="#cath" x="1080" y="1260" width="146" height="156"/>
<use href="#catd" x="884" y="1609" width="94" height="190"/>

<!-- leaves near legs -->
<path d="M605,1760 C630,1750 680,1770 710,1810 C720,1840 715,1870 705,1879 C670,1870 630,1840 615,1800 Z"/>
<path d="M700,1690 C750,1680 790,1720 795,1770 C795,1800 780,1820 760,1821 C730,1800 710,1760 700,1690 Z"/>
<path d="M705,1879 C720,1900 740,1930 745,1960" fill="none"/>
<use href="#cat" x="668" y="1886" width="104" height="216"/>

<!-- ===== bottom plants ===== -->
<path d="M690,2025 C750,2030 820,2040 880,2060 C900,2080 895,2110 870,2125 C800,2130 740,2100 700,2060 Z"/>
<path d="M905,1975 C930,1935 990,1925 1030,1950 C1050,1980 1054,2020 1040,2034 C990,2030 940,2010 905,1975 Z"/>
<circle cx="878" cy="2030" r="18" fill="#3d3d42"/><circle cx="900" cy="2078" r="20"/><circle cx="900" cy="2078" r="9" fill="#3d3d42"/>
<path d="M900,2100 C880,2160 900,2220 870,2280 M930,2060 C960,2120 940,2200 960,2260 M980,2040 C1000,2100 990,2160 1010,2210" fill="none"/>
<path d="M680,2330 C720,2260 790,2215 868,2215 C860,2280 830,2330 780,2355 C740,2352 700,2345 680,2330 Z"/>
<path d="M1080,2150 C1100,2090 1180,2060 1265,2060 C1240,2120 1230,2200 1180,2260 C1130,2250 1090,2210 1080,2150 Z"/>
<path d="M995,2300 C1020,2240 1080,2225 1134,2240 C1150,2300 1140,2380 1134,2420 C1080,2430 1020,2380 995,2300 Z"/>
<path d="M850,2400 C900,2350 990,2350 1040,2380 C1050,2440 1030,2500 1020,2534 C950,2510 880,2460 850,2400 Z"/>
<g stroke-width="4"><circle cx="860" cy="2310" r="11"/><circle cx="852" cy="2332" r="11"/><circle cx="848" cy="2354" r="11"/><circle cx="850" cy="2376" r="11"/><circle cx="858" cy="2398" r="11"/><circle cx="870" cy="2416" r="11"/></g>
<circle cx="905" cy="2265" r="15" fill="#3d3d42"/><circle cx="930" cy="2280" r="15" fill="#3d3d42"/><circle cx="950" cy="2262" r="13"/>
<circle cx="990" cy="2355" r="12" fill="#3d3d42"/><circle cx="1015" cy="2365" r="12" fill="#3d3d42"/><circle cx="1040" cy="2352" r="12"/>
<use href="#cath" x="1000" y="2035" width="80" height="195"/>
<ellipse cx="1040" cy="2235" rx="66" ry="20"/>
<path d="M976,2240 C980,2262 1100,2262 1104,2240" fill="none"/>
<path d="M1036,2258 L1038,2300 M1048,2258 L1050,2300" fill="none"/>
<path d="M1134,2100 C1180,2060 1240,2050 1262,2068 C1250,2150 1245,2250 1255,2340 C1200,2360 1160,2370 1134,2373 Z"/>
<path d="M1100,2070 C1130,2040 1180,2030 1210,2048" fill="none"/>
<use href="#ball" x="1236" y="2284" width="50" height="44"/>

<!-- ===== bottom cart ===== -->
<path d="M1150,2440 C1150,2400 1180,2392 1240,2392 L1480,2398 L1480,2440 L1860,2440 L1860,2505 L1165,2518 C1150,2500 1148,2470 1150,2440 Z"/>
<path d="M1165,2518 L1860,2505 L1845,2486" fill="none"/>
<ellipse cx="1198" cy="2482" rx="40" ry="44" fill="none" stroke-width="9"/>
<ellipse cx="1198" cy="2482" rx="22" ry="26" fill="none" stroke-width="5"/>
<use href="#cat" x="1248" y="2300" width="148" height="280"/>
<path d="M1282,2470 L1350,2470 M1282,2500 L1350,2500 M1282,2530 L1350,2530 M1300,2455 L1300,2560 M1330,2455 L1330,2560" fill="none" stroke-width="3.5"/>
<path d="M1427,2247 L1697,2236 L1773,2374 L1470,2385 Z"/>
<path d="M1427,2247 L1470,2385 L1472,2436 L1430,2300 Z"/>
<path d="M1438,2270 L1446,2330 M1450,2290 L1458,2360 M1460,2320 L1466,2400" fill="none" stroke-width="4"/>
<path d="M1470,2385 L1773,2374 L1775,2430 L1472,2438 Z"/>
<path d="M1470,2405 L1774,2396 M1500,2385 L1500,2436 M1530,2384 L1530,2436 M1560,2383 L1560,2435 M1590,2382 L1590,2434 M1620,2381 L1620,2433 M1650,2380 L1650,2432 M1680,2379 L1680,2431 M1710,2378 L1710,2430 M1740,2377 L1740,2430" fill="none" stroke-width="4"/>
<path d="M1467,2262 L1648,2256 L1668,2298 L1485,2308 Z"/>
<path d="M1551,2323 L1708,2316 L1715,2370 L1560,2378 Z"/>
<path d="M1580,2360 L1610,2330 M1640,2355 L1670,2325" fill="none" stroke-width="3.5"/>
<use href="#cathd" x="1480" y="2156" width="132" height="128"/>
<use href="#ball" x="1520" y="2222" width="40" height="40"/><use href="#ball" x="1556" y="2226" width="40" height="40"/><use href="#ball" x="1540" y="2200" width="40" height="40"/>
<path d="M1608,2090 C1600,2075 1640,2070 1650,2085 L1650,2120 C1680,2140 1678,2200 1676,2236 L1592,2238 C1588,2190 1595,2140 1612,2122 Z"/>
<path d="M1610,2160 L1625,2185 L1640,2160 M1615,2205 C1625,2195 1640,2200 1630,2215" fill="none" stroke-width="4"/>
<path d="M1660,2140 L1664,2230" fill="none" stroke-width="9"/>
<path d="M1700,2190 L1702,2175 L1745,2172 C1770,2225 1790,2260 1830,2285 L1862,2290 L1874,2380 L1898,2400 L1902,2465" fill="none"/>
<path d="M1792,2292 L1864,2290 L1870,2378 L1796,2380 Z"/>
<rect x="1805" y="2318" width="16" height="48" rx="6" fill="#3d3d42"/><rect x="1830" y="2312" width="16" height="54" rx="6" fill="#3d3d42"/>
<ellipse cx="1787" cy="2155" rx="21" ry="26"/><path d="M1787,2170 L1787,2228 M1777,2228 L1797,2228" fill="none"/>
<ellipse cx="1830" cy="2195" rx="22" ry="28"/><path d="M1830,2210 L1830,2266 M1818,2266 L1842,2266" fill="none"/>
<ellipse cx="1837" cy="2445" rx="58" ry="49" fill="#fff" stroke-width="12"/>
<ellipse cx="1837" cy="2445" rx="34" ry="29"/>
<ellipse cx="1837" cy="2445" rx="16" ry="14"/>
<use href="#ball" x="1734" y="2434" width="46" height="46"/><use href="#ball" x="1664" y="2444" width="42" height="44"/>
<use href="#catp" x="1472" y="2398" width="236" height="218"/>
<use href="#cat" x="1855" y="2093" width="126" height="175"/>
<path d="M1264,2150 C1266,2190 1290,2218 1320,2218 C1350,2218 1374,2190 1376,2150 Z"/>
<path d="M1290,2160 L1295,2210 M1320,2160 L1320,2216 M1350,2160 L1345,2210 M1270,2180 L1372,2180" fill="none" stroke-width="4"/>
<use href="#ball" x="1270" y="2120" width="36" height="36"/><use href="#ball" x="1300" y="2112" width="36" height="36"/><use href="#ball" x="1332" y="2120" width="36" height="36"/>
</g>

<!-- stipple dots -->
<g>
<use href="#dots" x="270" y="668" width="60" height="20"/><use href="#dots" x="450" y="660" width="60" height="20"/><use href="#dots" x="540" y="695" width="60" height="20"/><use href="#dots" x="760" y="705" width="60" height="20"/><use href="#dots" x="830" y="630" width="50" height="18"/>
<use href="#dots" x="380" y="1185" width="60" height="20"/><use href="#dots" x="600" y="1160" width="60" height="20"/><use href="#dots" x="820" y="1010" width="60" height="20"/><use href="#dots" x="300" y="1010" width="50" height="18"/>
<use href="#dots" x="200" y="1460" width="60" height="20"/><use href="#dots" x="560" y="1530" width="60" height="20"/><use href="#dots" x="820" y="1555" width="60" height="20"/>
<use href="#dots" x="1150" y="1135" width="60" height="20"/><use href="#dots" x="1270" y="1108" width="60" height="20"/><use href="#dots" x="1740" y="1190" width="60" height="20"/><use href="#dots" x="1975" y="1105" width="50" height="18"/>
<use href="#dots" x="1090" y="680" width="60" height="20"/><use href="#dots" x="1540" y="722" width="60" height="20"/><use href="#dots" x="1700" y="640" width="50" height="18"/><use href="#dots" x="1230" y="498" width="50" height="18"/>
<use href="#dots" x="1260" y="1920" width="60" height="20"/><use href="#dots" x="1540" y="1925" width="60" height="20"/><use href="#dots" x="1860" y="1890" width="60" height="20"/><use href="#dots" x="1300" y="1950" width="80" height="20"/>
<use href="#dots" x="1330" y="2058" width="120" height="20"/><use href="#dots" x="1680" y="2125" width="60" height="20"/><use href="#dots" x="1280" y="2225" width="60" height="20"/>
<use href="#dots" x="1240" y="2590" width="70" height="22"/><use href="#dots" x="1490" y="2620" width="80" height="24"/><use href="#dots" x="1880" y="2275" width="60" height="20"/>
<use href="#dots" x="230" y="2112" width="60" height="20"/><use href="#dots" x="370" y="2128" width="60" height="20"/><use href="#dots" x="620" y="2005" width="50" height="18"/>
<use href="#dots" x="440" y="2340" width="80" height="20"/><use href="#dots" x="640" y="2380" width="120" height="22"/>
<use href="#dots" x="1400" y="1218" width="90" height="18"/><use href="#dots" x="1650" y="1222" width="90" height="18"/><use href="#dots" x="1900" y="1190" width="80" height="18"/>
<use href="#dots" x="1100" y="1935" width="80" height="18"/><use href="#dots" x="1700" y="1940" width="90" height="18"/><use href="#dots" x="1920" y="1870" width="60" height="18"/>
<use href="#dots" x="460" y="1568" width="90" height="18"/><use href="#dots" x="1000" y="1260" width="60" height="18"/>
</g>

<g font-family="'Liberation Sans', sans-serif" font-size="40" fill="#3d3d42" letter-spacing="2">
<text x="1708" y="2563">2023</text>
<text x="1710" y="2603">0706</text>
</g>
</svg>
</body></html>
